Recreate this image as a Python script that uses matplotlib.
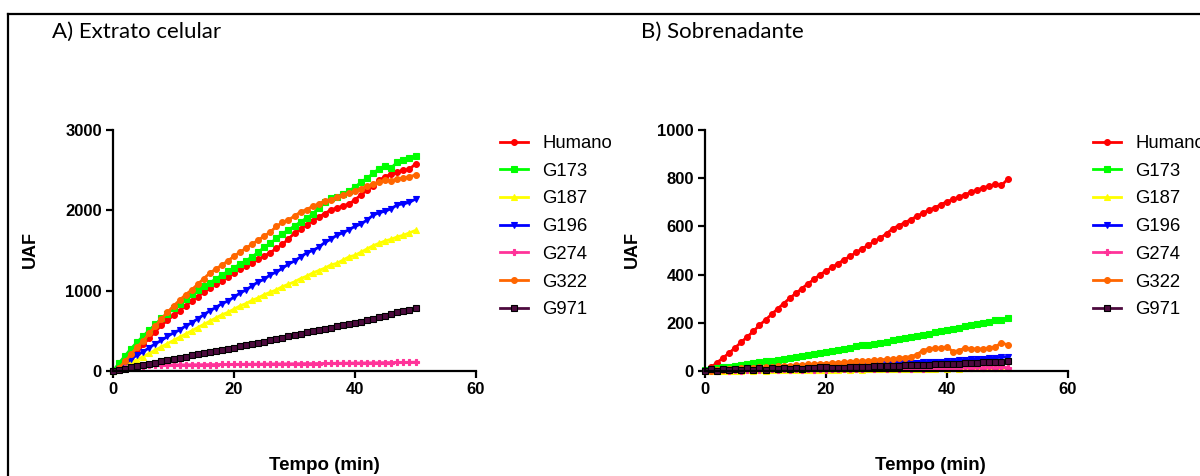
import numpy as np
import matplotlib
matplotlib.use("Agg")
import matplotlib.pyplot as plt
from matplotlib.lines import Line2D

# time axis (min), one reading per minute
tempo = np.arange(0, 51)

series_names = ["Humano", "G173", "G187", "G196", "G274", "G322", "G971"]

# A) Extrato celular
a_humano = [0, 40, 80, 130, 230, 330, 410, 490, 570, 630,
            695, 750, 810, 870, 925, 980, 1035, 1080, 1125, 1170,
            1225, 1270, 1310, 1350, 1390, 1430, 1475, 1525, 1575, 1645,
            1715, 1770, 1820, 1870, 1915, 1960, 2005, 2030, 2055, 2080,
            2130, 2195, 2250, 2300, 2375, 2420, 2450, 2480, 2500, 2510,
            2580]
a_g173 = [0, 100, 190, 280, 360, 435, 510, 580, 655, 715,
          780, 840, 900, 960, 1010, 1055, 1100, 1145, 1195, 1240,
          1285, 1330, 1375, 1420, 1480, 1540, 1590, 1650, 1710, 1755,
          1805, 1855, 1905, 1950, 2035, 2100, 2150, 2170, 2200, 2240,
          2290, 2350, 2400, 2460, 2520, 2555, 2530, 2600, 2630, 2650,
          2680]
a_g187 = [0, 20, 60, 100, 140, 180, 220, 260, 300, 340,
          380, 420, 460, 500, 540, 580, 620, 660, 700, 730,
          770, 810, 840, 880, 910, 950, 980, 1010, 1050, 1080,
          1110, 1150, 1180, 1220, 1250, 1280, 1320, 1340, 1380, 1420,
          1440, 1480, 1520, 1560, 1590, 1620, 1640, 1670, 1690, 1720,
          1750]
a_g196 = [0, 30, 90, 150, 200, 240, 290, 340, 380, 430,
          475, 510, 560, 600, 650, 700, 750, 790, 840, 870,
          920, 970, 1010, 1060, 1110, 1140, 1200, 1230, 1280, 1330,
          1370, 1420, 1470, 1500, 1540, 1600, 1640, 1690, 1720, 1760,
          1800, 1830, 1880, 1940, 1970, 1990, 2020, 2070, 2080, 2100,
          2140]
a_g274 = [0, 20, 40, 55, 62, 68, 70, 72, 73, 74,
          75, 76, 77, 78, 78, 79, 80, 80, 81, 82,
          82, 83, 84, 85, 85, 86, 87, 88, 88, 89,
          90, 91, 92, 92, 93, 94, 95, 96, 97, 98,
          99, 100, 101, 102, 103, 104, 105, 106, 107, 108,
          110]
a_g322 = [0, 40, 120, 210, 300, 375, 470, 560, 650, 730,
          810, 880, 950, 1010, 1080, 1150, 1220, 1270, 1320, 1370,
          1430, 1480, 1530, 1580, 1630, 1680, 1730, 1800, 1850, 1880,
          1930, 1980, 2010, 2050, 2080, 2120, 2130, 2160, 2190, 2210,
          2240, 2270, 2300, 2330, 2350, 2380, 2370, 2390, 2400, 2420,
          2440]
a_g971 = [0, 15, 30, 45, 60, 75, 90, 105, 120, 135,
          150, 165, 180, 195, 210, 220, 235, 250, 265, 278,
          290, 305, 320, 335, 350, 365, 385, 400, 415, 430,
          450, 465, 480, 495, 510, 525, 540, 555, 570, 585,
          600, 615, 630, 650, 670, 690, 710, 730, 745, 765,
          780]

# B) Sobrenadante
b_humano = [0, 15, 35, 55, 75, 97, 120, 142, 165, 190,
            212, 235, 258, 280, 302, 322, 342, 362, 380, 400,
            415, 430, 446, 462, 476, 492, 508, 522, 538, 552,
            570, 590, 603, 615, 628, 642, 655, 668, 678, 690,
            703, 712, 722, 732, 742, 752, 760, 768, 774, 770,
            795]
b_g173 = [5, 8, 12, 15, 18, 22, 25, 28, 32, 36,
          40, 43, 47, 51, 55, 58, 62, 66, 70, 74,
          78, 82, 86, 90, 95, 103, 108, 106, 112, 118,
          122, 127, 131, 136, 140, 145, 150, 155, 160, 165,
          169, 174, 180, 185, 192, 196, 200, 205, 210, 213,
          218]
b_g187 = [0, 1, 0, 2, 1, 2, 1, 3, 2, 3,
          2, 4, 3, 4, 3, 5, 4, 5, 4, 6,
          5, 6, 5, 7, 6, 7, 6, 8, 7, 8,
          7, 9, 8, 9, 8, 10, 9, 10, 9, 11,
          10, 11, 10, 12, 11, 12, 11, 13, 12, 13,
          12]
b_g196 = [0, 1, 2, 3, 4, 5, 6, 7, 8, 9,
          10, 11, 12, 13, 14, 15, 16, 17, 18, 19,
          20, 21, 22, 23, 24, 25, 26, 27, 28, 29,
          30, 31, 32, 33, 34, 35, 36, 37, 38, 39,
          41, 42, 44, 46, 48, 50, 51, 53, 55, 57,
          59]
b_g274 = [0, 3, 1, 4, 2, 5, 2, 6, 3, 6,
          4, 7, 4, 7, 5, 8, 5, 8, 6, 9,
          6, 9, 7, 10, 7, 10, 8, 11, 8, 11,
          9, 12, 9, 12, 10, 13, 10, 13, 11, 14,
          11, 14, 12, 15, 12, 15, 13, 16, 13, 16,
          14]
b_g322 = [0, 2, 5, 6, 8, 9, 11, 12, 14, 15,
          17, 18, 20, 21, 22, 24, 25, 27, 28, 30,
          31, 33, 35, 36, 38, 40, 41, 43, 45, 47,
          48, 50, 53, 56, 60, 68, 85, 92, 94, 96,
          100, 80, 85, 96, 92, 91, 92, 96, 100, 118,
          108]
b_g971 = [0, 8, 2, 10, 3, 10, 4, 11, 5, 12,
          6, 12, 8, 13, 9, 14, 10, 14, 11, 15,
          16, 12, 13, 14, 15, 17, 18, 18, 19, 20,
          21, 21, 22, 23, 24, 24, 25, 26, 27, 28,
          29, 30, 31, 32, 33, 34, 36, 37, 38, 39,
          41]

panel_a = [a_humano, a_g173, a_g187, a_g196, a_g274, a_g322, a_g971]
panel_b = [b_humano, b_g173, b_g187, b_g196, b_g274, b_g322, b_g971]
for s in panel_a + panel_b:
    assert len(s) == len(tempo)

colors = ["#FF0000", "#00FF00", "#FFFF00", "#0000FF", "#FF3399", "#FF6600", "#4D0A3E"]
markers = ["o", "s", "^", "v", "P", "o", "s"]

fig = plt.figure(figsize=(12, 4.76), dpi=100)
W, H = 1200, 476


def fx(px):
    return px / W


def fy(py):
    return 1 - py / H


def draw_panel(left_px, data, ymax, yticks, legend_x):
    ax = fig.add_axes([fx(left_px), fy(371), fx(363), 241 / H])
    for vals, c, m, name in zip(data, colors, markers, series_names):
        edge = "black" if name == "G971" else c
        ax.plot(tempo, vals, color=c, lw=2.0, marker=m, ms=4.2,
                mec=edge, mew=0.8, mfc=c, label=name, clip_on=False)
    ax.set_xlim(0, 60)
    ax.set_ylim(0, ymax)
    ax.set_xticks([0, 20, 40, 60])
    ax.set_yticks(yticks)
    for side in ["top", "right"]:
        ax.spines[side].set_visible(False)
    for side in ["left", "bottom"]:
        ax.spines[side].set_linewidth(1.6)
    ax.tick_params(direction="out", length=5, width=1.6, labelsize=12, pad=3)
    for lab in ax.get_xticklabels() + ax.get_yticklabels():
        lab.set_fontweight("bold")
        lab.set_family("Liberation Sans")
    ax.legend(loc="upper left", bbox_to_anchor=(fx(legend_x), fy(135)),
              bbox_transform=fig.transFigure, frameon=False,
              prop={"family": "Liberation Sans", "size": 13.3},
              handlelength=1.5, handletextpad=0.8, labelspacing=0.58,
              borderpad=0, borderaxespad=0)
    return ax


draw_panel(113, panel_a, 3000, [0, 1000, 2000, 3000], 500)
draw_panel(705, panel_b, 1000, [0, 200, 400, 600, 800, 1000], 1093)

# axis labels
for x_ua, x_t in [(30, 324), (632, 930)]:
    fig.text(fx(x_ua), fy(250), "UAF", rotation=90, ha="center", va="center",
             fontsize=13, fontweight="bold", family="Liberation Sans")
    fig.text(fx(x_t), fy(466), "Tempo (min)", ha="center", va="center",
             fontsize=13.5, fontweight="bold", family="Liberation Sans")

# panel titles
fig.text(fx(52), fy(32), "A) Extrato celular", ha="left", va="center",
         fontsize=16, family="Lato")
fig.text(fx(641), fy(32), "B) Sobrenadante", ha="left", va="center",
         fontsize=16, family="Lato")

# outer frame (cut off at the right and bottom edges)
fig.add_artist(Line2D([fx(8), 1.01], [fy(14), fy(14)], color="black", lw=1.6))
fig.add_artist(Line2D([fx(8), fx(8)], [fy(14), -0.01], color="black", lw=1.6))

fig.savefig("out.png", dpi=100)
